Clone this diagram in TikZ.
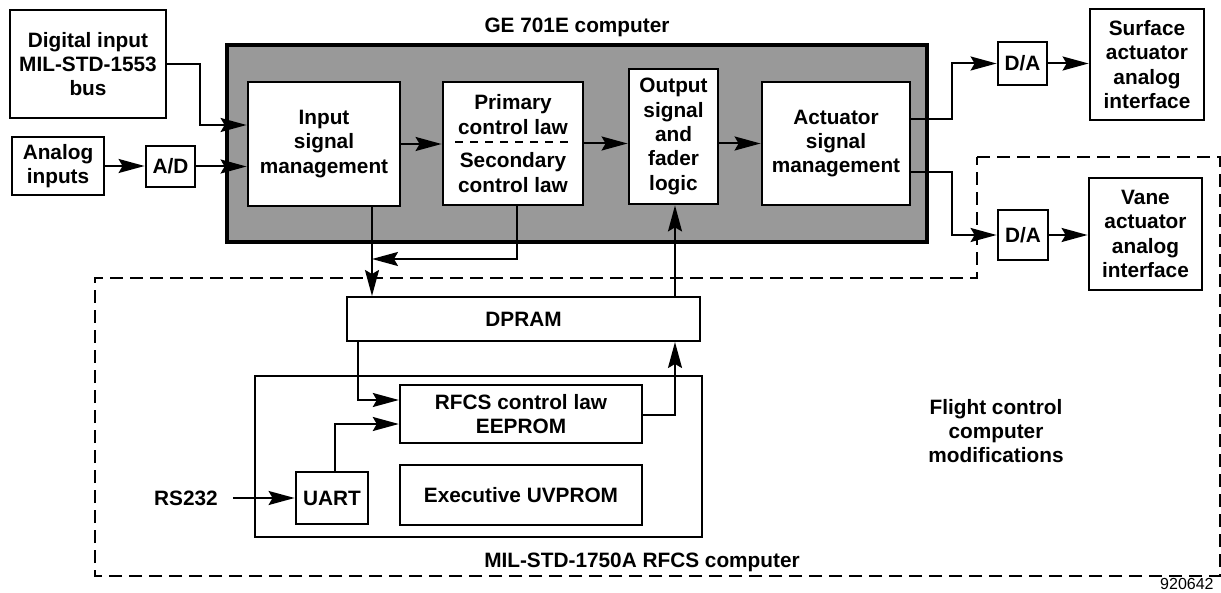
\documentclass[tikz,border=0pt]{standalone}
\usepackage{fontspec}
\setmainfont{Liberation Sans}
\usetikzlibrary{arrows.meta}

\begin{document}
\begin{tikzpicture}[x=0.5pt, y=-0.5pt,
  font=\fontsize{10.4}{12.2}\selectfont\bfseries,
  block/.style={draw, line width=1.4pt, fill=white, align=center, inner sep=0pt},
  thinblock/.style={draw, line width=1pt, fill=white, align=center, inner sep=0pt},
  gebox/.style={draw, line width=2pt, fill=black!40, inner sep=0pt},
  flow/.style={-{Stealth[length=13pt, width=7pt, inset=2pt]}, line width=1pt},
  region/.style={dash pattern=on 6.5pt off 3.5pt, line width=1pt}
]
\useasboundingbox (0,0) rectangle (1221,593);

% Flight control computer modifications
\draw[region] (977,157) -- (1220,157) -- (1220,576) -- (95,576) -- (95,278)
  -- (977,278) -- cycle;

% GE 701E computer
\node[gebox, minimum width=350pt, minimum height=98.5pt] (ge) at (577,143.5) {};
\node (getitle) at (577,27) {GE 701E computer};

% Inputs
\node[block, minimum width=78pt, minimum height=54pt] (dig) at (88,64)
  {Digital input\\MIL-STD-1553\\bus};
\node[block, minimum width=46pt, minimum height=29pt] (ana) at (58,166)
  {Analog\\inputs};
\node[block, minimum width=24.5pt, minimum height=20.5pt] (ad) at (170.5,166.5) {A/D};

% Inside the GE 701E
\node[block, minimum width=76pt, minimum height=62pt] (ism) at (324,144)
  {Input\\signal\\management};
\node[block, minimum width=70pt, minimum height=61.5pt] (pcl) at (513,143.5)
  {Primary\\control law\\[4.5pt]Secondary\\control law};
\draw[dash pattern=on 4pt off 3.5pt, line width=1.2pt] (455,142) -- (573,142);
\node[block, minimum width=44.5pt, minimum height=67.5pt] (osf) at (673.5,136.5)
  {Output\\signal\\and\\fader\\logic};
\node[block, minimum width=74pt, minimum height=61.5pt] (asm) at (836,143.5)
  {Actuator\\signal\\management};

% Outputs
\node[block, minimum width=24.5pt, minimum height=21.5pt] (da1) at (1022.5,63.5) {D/A};
\node[block, minimum width=57pt, minimum height=55.5pt] (sur) at (1147,64.5)
  {Surface\\actuator\\analog\\interface};
\node[block, minimum width=25pt, minimum height=25pt] (da2) at (1023,235) {D/A};
\node[block, minimum width=56.5pt, minimum height=56pt] (van) at (1145.5,234)
  {Vane\\actuator\\analog\\interface};

% MIL-STD-1750A RFCS computer
\node[thinblock, minimum width=176.5pt, minimum height=22pt] (dpram) at (523.5,319) {DPRAM};
\node[thinblock, minimum width=223.5pt, minimum height=80.5pt] (rfcs) at (478.5,456.5) {};
\node[block, line width=1.2pt, minimum width=121pt, minimum height=29pt] (law) at (521,414)
  {RFCS control law\\EEPROM};
\node[block, minimum width=36pt, minimum height=26pt] (uart) at (332,498) {UART};
\node[block, line width=1.2pt, minimum width=121pt, minimum height=30pt] (uvp) at (521,495)
  {Executive UVPROM};
\node (rs) at (186,498) {RS232};
\node (rfcstitle) at (642,562) {MIL-STD-1750A RFCS computer};
\node[align=center] (fcc) at (996,431) {Flight control\\computer\\modifications};
\node[font=\fontsize{8}{9.6}\selectfont, anchor=east, inner sep=0pt] (num) at (1214,584) {920642};

% Connectors
\draw[flow] (dig.east) -- (200,64) |- (ism.west |- 0,125);
\draw[flow] (ana.east) -- (ana.east -| ad.west);
\draw[flow] (ad.east) -- (ad.east -| ism.west);
\draw[flow] (ism.east) -- (ism.east -| pcl.west);
\draw[flow] (pcl.east) -- (pcl.east -| osf.west);
\draw[flow] (osf.east |- asm.west) -- (asm.west);
\draw[flow] (asm.east |- 0,119) -- (952,119) |- (da1.west);
\draw[flow] (da1.east) -- (da1.east -| sur.west);
\draw[flow] (asm.east |- 0,172) -- (952,172) |- (da2.west);
\draw[flow] (da2.east) -- (da2.east -| van.west);
\draw[flow] (ism.south -| 372,0) -- (dpram.north -| 372,0);
\draw[flow] (pcl.south -| 517,0) -- (517,259) -- (372,259);
\draw[flow] (dpram.north -| 675,0) -- (osf.south -| 675,0);
\draw[flow] (dpram.south -| 358,0) |- (law.west |- 0,400);
\draw[flow] (uart.north -| 335,0) |- (law.west |- 0,424);
\draw[flow] (law.east |- 0,415) -| (dpram.south -| 675,0);
\draw[flow] (rs.east) ++(8,0) -- (uart.west);
\end{tikzpicture}
\end{document}
